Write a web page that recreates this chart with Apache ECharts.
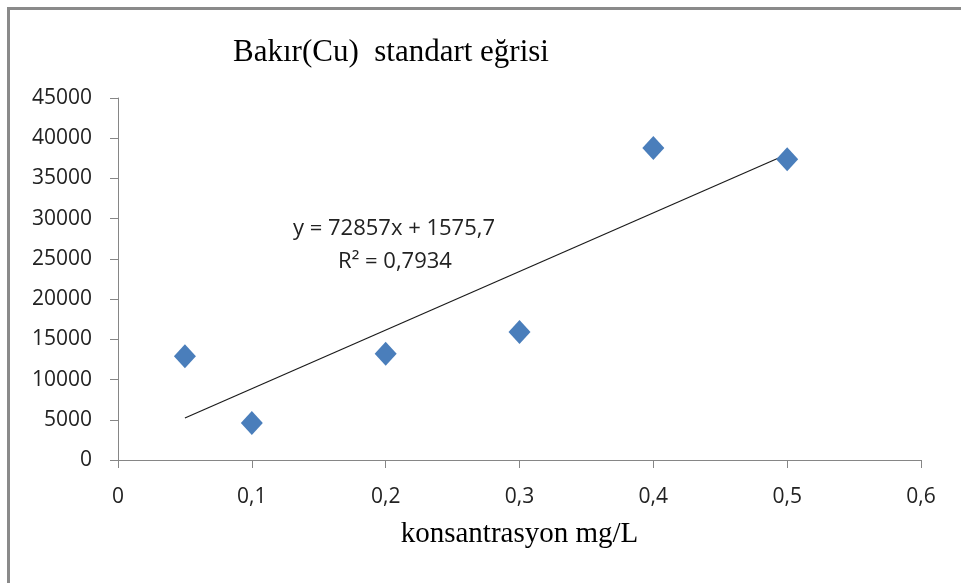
<!DOCTYPE html>
<html>
<head>
<meta charset="utf-8">
<script src="https://cdn.jsdelivr.net/npm/echarts@6/dist/echarts.min.js"></script>
<style>
  html, body { margin: 0; padding: 0; background: #fff; }
  #chart { width: 961px; height: 583px; }
</style>
</head>
<body>
<div id="chart"></div>
<script>
// Copper standard curve: concentration (mg/L) vs. signal
const concentrations = [0.05, 0.1, 0.2, 0.3, 0.4, 0.5];
const signals = [12900, 4600, 13200, 15900, 38800, 37400];

// Linear trendline coefficients as reported on the chart
const trendSlope = 72857;
const trendIntercept = 1575.7;
const trendRSquared = '0,7934';
const trendRange = [0.05, 0.5];

const titleText = 'Bakır(Cu)  standart eğrisi';
const xAxisTitle = 'konsantrasyon mg/L';

const points = concentrations.map((x, i) => [x, signals[i]]);
const trendPoints = trendRange.map(x => [x, trendSlope * x + trendIntercept]);

const fmtComma = v => String(v).replace('.', ',');
const equationText = 'y = ' + trendSlope + 'x + ' + fmtComma(trendIntercept);

const chart = echarts.init(document.getElementById('chart'), null, { renderer: 'canvas' });

const axisFont = { fontFamily: 'Open Sans', fontSize: 21, color: '#222' };

chart.setOption({
  animation: false,
  backgroundColor: '#fff',
  title: {
    text: titleText,
    left: 386,
    top: 32,
    textAlign: 'center',
    textStyle: { fontFamily: 'Liberation Serif', fontSize: 31, fontWeight: 'normal', color: '#000' }
  },
  grid: { left: 118, right: 40, top: 98, bottom: 123 },
  xAxis: {
    type: 'value',
    min: 0, max: 0.6, interval: 0.1,
    name: xAxisTitle,
    nameLocation: 'middle',
    nameGap: 60,
    nameTextStyle: { fontFamily: 'Liberation Serif', fontSize: 29, color: '#000' },
    axisLine: { show: true, lineStyle: { color: '#868686', width: 1 } },
    axisTick: { show: true, length: 8, lineStyle: { color: '#868686' } },
    axisLabel: Object.assign({ margin: 27, formatter: v => fmtComma(Math.round(v * 10) / 10) }, axisFont),
    splitLine: { show: false }
  },
  yAxis: {
    type: 'value',
    min: 0, max: 45000, interval: 5000,
    axisLine: { show: true, lineStyle: { color: '#868686', width: 1 } },
    axisTick: { show: true, length: 8, lineStyle: { color: '#868686' } },
    axisLabel: Object.assign({ margin: 26, formatter: v => String(v) }, axisFont),
    splitLine: { show: false }
  },
  series: [
    {
      type: 'line',
      data: trendPoints,
      showSymbol: false,
      symbol: 'none',
      lineStyle: { color: '#1a1a1a', width: 1.2 },
      z: 2
    },
    {
      type: 'scatter',
      data: points,
      symbol: 'diamond',
      symbolSize: [22, 24],
      itemStyle: { color: '#4a7ebb', opacity: 1 },
      z: 3
    }
  ],
  graphic: [
    {
      type: 'rect',
      left: 6, top: 6,
      shape: { width: 1000, height: 1000 },
      style: { fill: 'none', stroke: '#8a8a8a', lineWidth: 3 },
      silent: true
    },
    {
      type: 'text',
      x: 394, y: 229,
      style: { text: equationText, fontFamily: 'Open Sans', fontSize: 22, fill: '#222', align: 'center', verticalAlign: 'middle' }
    },
    {
      type: 'text',
      x: 395, y: 262,
      style: { text: 'R² = ' + trendRSquared, fontFamily: 'Open Sans', fontSize: 22, fill: '#222', align: 'center', verticalAlign: 'middle' }
    }
  ]
});
</script>
</body>
</html>
